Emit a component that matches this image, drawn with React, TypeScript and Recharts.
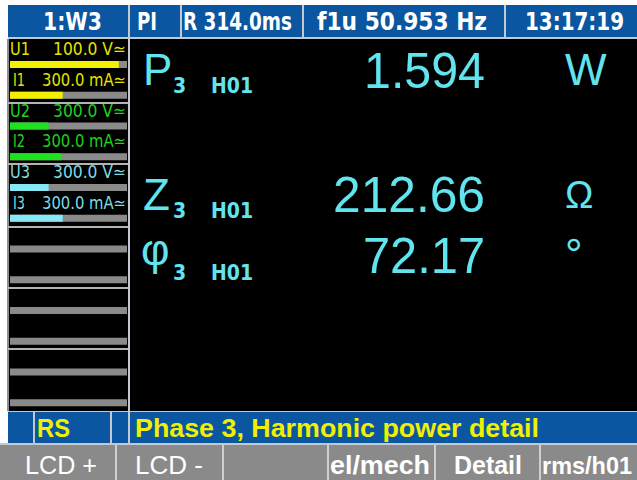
import { BarChart, Bar, XAxis, YAxis, Cell } from 'recharts'

// channel level bars on the left panel (6 blocks x 2 bars)
const CHANNELS = ['U1', 'I1', 'U2', 'I2', 'U3', 'I3', '', '', '', '', '', '']
const RANGES = ['100.0 V≃', '300.0 mA≃', '300.0 V≃', '300.0 mA≃', '300.0 V≃', '300.0 mA≃', '', '', '', '', '', '']
const LEVELS = [0.93, 0.45, 0.33, 0.44, 0.33, 0.45, 0, 0, 0, 0, 0, 0]
const LEVEL_COLORS = ['#f2f200', '#f2f200', '#1ee21e', '#1ee21e', '#86e8f4', '#86e8f4', '#888', '#888', '#888', '#888', '#888', '#888']
const LABEL_COLORS = ['#e4e400', '#e4e400', '#1ed21e', '#1ed21e', '#7edbe6', '#7edbe6', '', '', '', '', '', '']

// header and footer texts
const HEADER = ['1:W3', 'PI', 'R 314.0ms', 'f1u 50.953 Hz', '13:17:19']
const STATUS = ['RS', 'Phase 3, Harmonic power detail']
const SOFTKEYS = ['LCD +', 'LCD -', '', 'el/mech', 'Detail', 'rms/h01']

// readouts
const QUANTITIES = ['P', 'Z', 'φ']
const READOUTS = ['1.594', '212.66', '72.17']
const UNITS = ['W', 'Ω', '°']

const BLUE = '#0b56a0'
const CYAN = '#62e4ee'
const YELLOW = '#f0f000'
const GRAY = '#8a8a8a'
const LINE = '#c4c8d0'
const NARROW = '"Liberation Sans Narrow", "DejaVu Sans Condensed", sans-serif'
const SANS = '"Liberation Sans", Arial, sans-serif'

const rows = CHANNELS.map((ch, i) => ({ slot: `s${i}`, ch, range: RANGES[i], level: LEVELS[i], idx: i }))

function LevelBar(props: any) {
  const { x, y, width, height, fill, payload } = props
  const i = payload.idx
  const isCurrent = payload.ch[0] === 'I'
  return (
    <g>
      <rect x={x} y={y} width={Math.max(width, 0)} height={height} fill={fill} />
      {payload.ch && (
        <g fontFamily={NARROW} fontSize={17} fill={LABEL_COLORS[i]}>
          <text x={isCurrent ? 3 : 0} y={y - 6} textLength={isCurrent ? 12 : 20} lengthAdjust="spacingAndGlyphs">{payload.ch}</text>
          <text x={116} y={y - 6} textAnchor="end" textLength={isCurrent ? 84 : 73} lengthAdjust="spacingAndGlyphs">{payload.range}</text>
        </g>
      )}
    </g>
  )
}

// x positions of header boxes / texts
const headerX = [[43, 59], [137, 20], [183, 109], [317, 170], [525, 99]]
const softX = [[25, 72], [135, 68], [0, 0], [330, 100], [454, 68], [542, 90]]
const rowY = [[85, 93, 88], [210, 218, 212], [265, 280, 273]]
const valueW = [121, 152, 122]

export default function App() {
  return (
    <div style={{ position: 'relative', width: 637, height: 480, background: '#fff', overflow: 'hidden' }}>
      <style>{'body{margin:0}'}</style>
      <svg width={637} height={480} style={{ position: 'absolute', left: 0, top: 0 }}>
        {/* header */}
        <rect x={8} y={5} width={629} height={32} fill={BLUE} />
        <rect x={8} y={37} width={629} height={2} fill={LINE} />
        {[128, 180, 302, 504].map(x => <rect key={x} x={x} y={5} width={2} height={32} fill={LINE} />)}
        <g fontFamily={NARROW} fontWeight="bold" fontSize={24} fill="#fff">
          {HEADER.map((t, i) => (
            <text key={t} x={headerX[i][0]} y={30} textLength={headerX[i][1]} lengthAdjust="spacingAndGlyphs">{t}</text>
          ))}
        </g>

        {/* left panel */}
        <rect x={8} y={39} width={122} height={372} fill="#000" />
        <rect x={7} y={39} width={2} height={372} fill="#8c8c8c" />
        <rect x={128} y={39} width={2} height={372} fill={LINE} />
        {[102, 163, 226, 287, 348].map(y => <rect key={y} x={8} y={y} width={120} height={2} fill="#b4b4b4" />)}

        {/* main readout area */}
        <rect x={130} y={39} width={507} height={372} fill="#000" />
        <g fill={CYAN}>
          {QUANTITIES.map((q, i) => (
            <g key={q}>
              <text x={q === 'φ' ? 141 : 143} y={rowY[i][0]} fontFamily={SANS} fontSize={44}>{q}</text>
              <text x={173} y={rowY[i][1]} fontFamily={NARROW} fontWeight="bold" fontSize={21}>3</text>
              <text x={211} y={rowY[i][1]} fontFamily={NARROW} fontWeight="bold" fontSize={22} textLength={42} lengthAdjust="spacingAndGlyphs">H01</text>
              <text x={485} y={rowY[i][2]} fontFamily={SANS} fontSize={50} textAnchor="end" textLength={valueW[i]} lengthAdjust="spacingAndGlyphs">{READOUTS[i]}</text>
              <text x={565} y={i === 1 ? 208 : i === 0 ? 85 : 270} fontFamily={SANS} fontSize={i === 1 ? 38 : 44}>{UNITS[i]}</text>
            </g>
          ))}
        </g>

        {/* status line */}
        <rect x={8} y={411} width={629} height={1} fill={LINE} />
        <rect x={8} y={412} width={629} height={31} fill={BLUE} />
        {[33, 110, 128].map(x => <rect key={x} x={x} y={412} width={2} height={31} fill={LINE} />)}
        <rect x={0} y={443} width={637} height={2} fill={LINE} />
        <g fontFamily={SANS} fontWeight="bold" fontSize={25} fill={YELLOW}>
          <text x={37} y={437} textLength={33} lengthAdjust="spacingAndGlyphs">{STATUS[0]}</text>
          <text x={135} y={437} textLength={404} lengthAdjust="spacingAndGlyphs">{STATUS[1]}</text>
        </g>

        {/* soft keys */}
        <rect x={0} y={445} width={637} height={35} fill={GRAY} />
        {[115, 222, 327, 434, 539].map(x => <rect key={x} x={x} y={445} width={2} height={35} fill="#cfcfcf" />)}
        <g fontFamily={SANS} fontSize={26} fill="#fff">
          {SOFTKEYS.map((t, i) => t && (
            <text key={t} x={softX[i][0]} y={474} fontSize={i === 5 ? 24 : 26} fontWeight={i < 2 ? 'normal' : 'bold'} textLength={softX[i][1]} lengthAdjust="spacingAndGlyphs">{t}</text>
          ))}
        </g>
      </svg>

      <div style={{ position: 'absolute', left: 10, top: 37 }}>
        <BarChart width={120} height={381} data={rows} layout="vertical" margin={{ top: 12, right: 3, bottom: 0, left: 0 }} barSize={7} style={{ overflow: 'visible' }}>
          <XAxis type="number" domain={[0, 1]} hide />
          <YAxis type="category" dataKey="slot" hide />
          <Bar dataKey="level" background={{ fill: '#8a8a8a' }} shape={LevelBar} isAnimationActive={false}>
            {rows.map((r, i) => <Cell key={r.slot} fill={LEVEL_COLORS[i]} />)}
          </Bar>
        </BarChart>
      </div>
    </div>
  )
}
